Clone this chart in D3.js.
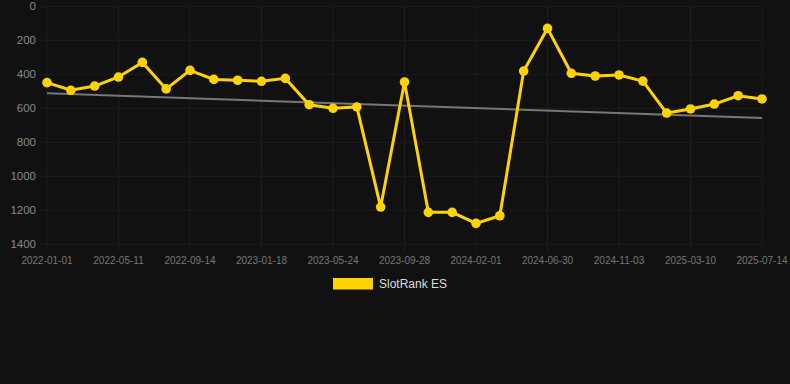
<!DOCTYPE html>
<html>
<head>
<meta charset="utf-8">
<script src="https://cdn.jsdelivr.net/npm/d3@7"></script>
<style>
  html, body { margin: 0; padding: 0; background: #111111; }
  svg { display: block; font-family: "Liberation Sans", Arial, sans-serif; }
</style>
</head>
<body>
<svg id="chart"></svg>
<script>
// Category dates (every third one is labelled on the axis)
const dates = [
  "2022-01-01", "2022-02-13", "2022-03-28", "2022-05-11", "2022-06-22", "2022-08-03",
  "2022-09-14", "2022-10-26", "2022-12-07", "2023-01-18", "2023-03-01", "2023-04-12",
  "2023-05-24", "2023-07-05", "2023-08-17", "2023-09-28", "2023-11-09", "2023-12-21",
  "2024-02-01", "2024-03-21", "2024-05-10", "2024-06-30", "2024-08-11", "2024-09-22",
  "2024-11-03", "2024-12-15", "2025-01-27", "2025-03-10", "2025-04-21", "2025-06-02",
  "2025-07-14"
];

// SlotRank ES rank values
const rankValues = [
  449, 494, 469, 416, 330, 486, 377, 430, 435, 441, 424, 579, 600, 592, 1181, 445,
  1212, 1212, 1277, 1232, 381, 130, 394, 410, 404, 440, 628, 604, 575, 526, 545
];

const yTicks = [0, 200, 400, 600, 800, 1000, 1200, 1400];
const seriesName = "SlotRank ES";

const width = 790, height = 384;
const plot = { left: 47, right: 762, top: 6.3, bottom: 244.3 };
const gold = "#ffd200";
const gridColor = "#1d1d1d";

const svg = d3.select("#chart").attr("width", width).attr("height", height);

const data = dates.map((d, i) => ({ date: d, value: rankValues[i] }));

// Scales
const xScale = d3.scalePoint().domain(dates).range([plot.left, plot.right]);
const yScale = d3.scaleLinear().domain([0, 1400]).range([plot.top, plot.bottom]);

const labelled = dates.filter((d, i) => i % 3 === 0);

// Grid lines
svg.append("g")
  .selectAll("line")
  .data(yTicks)
  .join("line")
  .attr("x1", plot.left - 7)
  .attr("x2", plot.right)
  .attr("y1", d => yScale(d))
  .attr("y2", d => yScale(d))
  .attr("stroke", gridColor)
  .attr("stroke-width", 1);

svg.append("g")
  .selectAll("line")
  .data(labelled)
  .join("line")
  .attr("x1", d => xScale(d))
  .attr("x2", d => xScale(d))
  .attr("y1", plot.top)
  .attr("y2", plot.bottom + 7)
  .attr("stroke", gridColor)
  .attr("stroke-width", 1);

// Y axis labels
svg.append("g")
  .selectAll("text")
  .data(yTicks)
  .join("text")
  .attr("x", 36)
  .attr("y", d => yScale(d))
  .attr("dy", "0.35em")
  .attr("text-anchor", "end")
  .attr("font-size", "11.5px")
  .attr("fill", "#888")
  .text(d => d);

// X axis labels
svg.append("g")
  .selectAll("text")
  .data(labelled)
  .join("text")
  .attr("x", d => xScale(d))
  .attr("y", 260)
  .attr("dy", "0.35em")
  .attr("text-anchor", "middle")
  .attr("font-size", "10px")
  .attr("fill", "#777")
  .text(d => d);

// Trend line (least squares over the series)
const n = data.length;
const meanX = d3.mean(data, (d, i) => i);
const meanY = d3.mean(data, d => d.value);
const slope = d3.sum(data, (d, i) => (i - meanX) * (d.value - meanY)) /
  d3.sum(data, (d, i) => (i - meanX) * (i - meanX));
const trend = [0, n - 1].map(i => ({ date: dates[i], value: meanY + slope * (i - meanX) }));

const line = d3.line()
  .x(d => xScale(d.date))
  .y(d => yScale(d.value));

svg.append("path")
  .datum(trend)
  .attr("fill", "none")
  .attr("stroke", "#777")
  .attr("stroke-width", 2)
  .attr("d", line);

// Data line
svg.append("path")
  .datum(data)
  .attr("fill", "none")
  .attr("stroke", gold)
  .attr("stroke-width", 3)
  .attr("d", line);

svg.append("g")
  .selectAll("circle")
  .data(data)
  .join("circle")
  .attr("cx", d => xScale(d.date))
  .attr("cy", d => yScale(d.value))
  .attr("r", 4.8)
  .attr("fill", gold);

// Legend
const legend = svg.append("g").attr("transform", "translate(333,278)");
legend.append("rect")
  .attr("width", 40)
  .attr("height", 11.5)
  .attr("fill", gold);
legend.append("text")
  .attr("x", 46)
  .attr("y", 6)
  .attr("dy", "0.35em")
  .attr("font-size", "12px")
  .attr("fill", "#ddd")
  .text(seriesName);
</script>
</body>
</html>
